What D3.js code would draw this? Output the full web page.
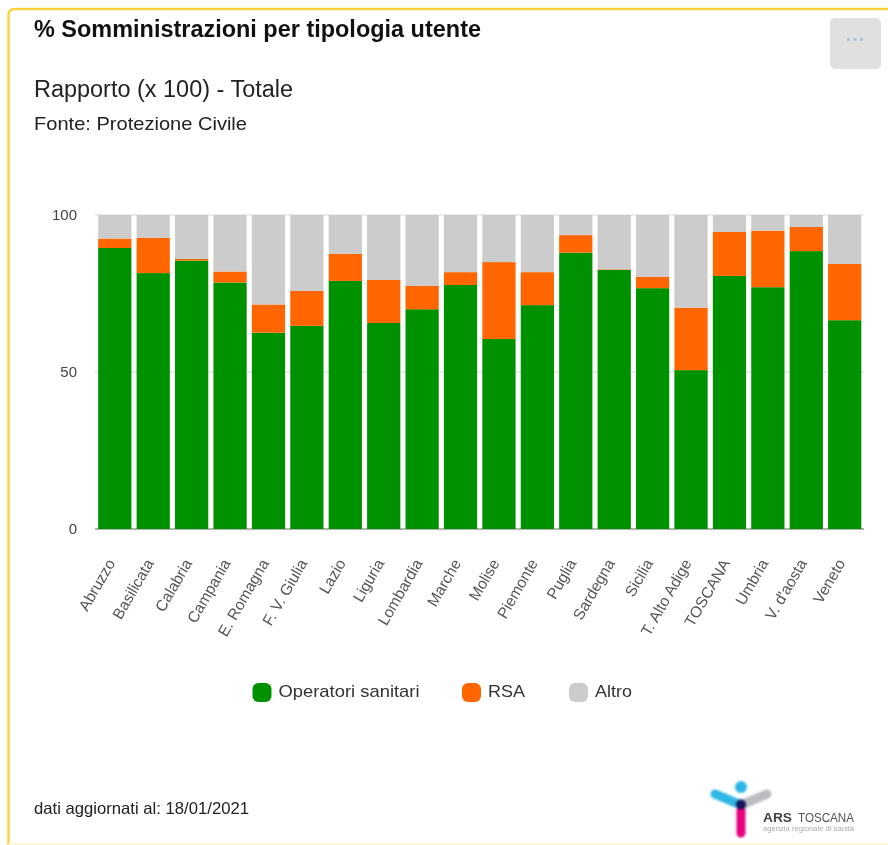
<!DOCTYPE html>
<html><head><meta charset="utf-8">
<script src="https://cdn.jsdelivr.net/npm/d3@7"></script>
<style>
html,body{margin:0;padding:0;background:#fff;overflow:hidden}
svg{display:block;font-family:"Liberation Sans",Arial,sans-serif;filter:blur(0.45px)}
</style></head><body>
<svg id="c" width="888" height="845"></svg>
<script>
const categories=["Abruzzo","Basilicata","Calabria","Campania","E. Romagna","F. V. Giulia","Lazio","Liguria","Lombardia","Marche","Molise","Piemonte","Puglia","Sardegna","Sicilia","T. Alto Adige","TOSCANA","Umbria","V. d'aosta","Veneto"];
const operatori=[89.5,81.5,85.5,78.5,62.5,64.7,79,65.6,70,77.7,60.5,71.3,88,82.5,76.7,50.6,80.6,77,88.5,66.5];
const rsa=[3,11.2,0.5,3.5,9,11.1,8.6,13.7,7.4,4.1,24.5,10.5,5.6,0.2,3.6,19.9,14,18,7.7,17.9];
const altro=[7.5,7.3,14,18,28.5,24.2,12.4,20.7,22.6,18.2,15,18.2,6.4,17.3,19.7,29.5,5.4,5,3.8,15.6];
const seriesNames=["Operatori sanitari","RSA","Altro"];
const seriesColors=["#009100","#ff6600","#cccccc"];
const yTicks=[0,50,100];

const svg=d3.select("#c");
svg.append("path").attr("d","M8.5,845 V15 Q8.5,9 14.5,9 H888").attr("fill","none").attr("stroke","#ffd23c").attr("stroke-width",2.4);
svg.append("line").attr("x1",8).attr("x2",888).attr("y1",844).attr("y2",844).attr("stroke","#fff3c8").attr("stroke-width",1.5);

const text=(x,y,s,size,weight,fill,len)=>{const t=svg.append("text").attr("x",x).attr("y",y).text(s)
  .attr("font-size",size).attr("font-weight",weight||"normal").attr("fill",fill||"#111");
  if(len)t.attr("textLength",len).attr("lengthAdjust","spacingAndGlyphs");return t;};
text(34,37,"% Somministrazioni per tipologia utente",23,"bold","#111",447);
text(34,96.5,"Rapporto (x 100) - Totale",23.5,"normal","#222",259);
text(34,130,"Fonte: Protezione Civile",19,"normal","#222",213);
text(34,814,"dati aggiornati al: 18/01/2021",16.5,"normal","#222",215);

svg.append("rect").attr("x",830).attr("y",18).attr("width",51).attr("height",51).attr("rx",5).attr("fill","#e0e0e0");
svg.selectAll("circle.dot").data([0,1,2]).join("circle").attr("class","dot")
  .attr("cx",d=>848.5+d*6.5).attr("cy",39.5).attr("r",1.7).attr("fill","#a9c4dc");

const x=d3.scaleBand().domain(categories).range([95.5,864]).paddingInner(0.135).paddingOuter(0.07);
const y=d3.scaleLinear().domain([0,100]).range([529,215]);

svg.append("g").selectAll("line").data(yTicks).join("line")
  .attr("x1",95).attr("x2",864).attr("y1",d=>y(d)).attr("y2",d=>y(d))
  .attr("stroke",d=>d===0?"#9a9a9a":"#e4e4e4").attr("stroke-width",d=>d===0?1.4:1.5);

const rows=categories.map((c,i)=>({c,a:operatori[i],b:rsa[i],d:altro[i]}));
const stack=d3.stack().keys(["a","b","d"])(rows);
svg.append("g").selectAll("g").data(stack).join("g").attr("fill",(d,i)=>seriesColors[i])
  .selectAll("rect").data(d=>d).join("rect")
  .attr("x",d=>x(d.data.c)).attr("width",x.bandwidth())
  .attr("y",d=>y(d[1])).attr("height",d=>y(d[0])-y(d[1]));

const yAxis=d3.axisLeft(y).tickValues(yTicks).tickSize(0).tickPadding(19);
const gy=svg.append("g").attr("transform","translate(96,0)").call(yAxis);
gy.select(".domain").remove();
gy.selectAll("text").attr("font-size",15).attr("font-family","inherit").attr("fill","#444");

const xAxis=d3.axisBottom(x).tickSize(0).tickPadding(0);
const gx=svg.append("g").attr("transform","translate(0,529)").call(xAxis);
gx.select(".domain").remove();
gx.selectAll("text").attr("font-size",15.5).attr("font-family","inherit").attr("fill","#555")
  .attr("text-anchor","end").attr("dy",0).attr("y",0)
  .attr("transform","translate(1,34) rotate(-60)");

const lx=[252.5,462,569];
const lw=[141,37,37];
const lg=svg.append("g").selectAll("g").data(seriesNames).join("g").attr("transform",(d,i)=>`translate(${lx[i]},683)`);
lg.append("rect").attr("width",19).attr("height",19).attr("rx",6).attr("fill",(d,i)=>seriesColors[i]);
lg.append("text").attr("x",26).attr("y",14).attr("font-size",17).attr("fill","#333")
  .attr("textLength",(d,i)=>lw[i]).attr("lengthAdjust","spacingAndGlyphs").text(d=>d);

const logo=svg.append("g").attr("stroke-linecap","round").attr("fill","none").style("filter","blur(1px)");
logo.append("line").attr("x1",741).attr("y1",805).attr("x2",767).attr("y2",794).attr("stroke","#b9bcc0").attr("stroke-width",9);
logo.append("line").attr("x1",715).attr("y1",794).attr("x2",741).attr("y2",805).attr("stroke","#2fb6e6").attr("stroke-width",9);
logo.append("line").attr("x1",741).attr("y1",810).attr("x2",741).attr("y2",833).attr("stroke","#e6007e").attr("stroke-width",9);
logo.append("circle").attr("cx",741).attr("cy",787).attr("r",6).attr("fill","#2fb6e6");
logo.append("circle").attr("cx",741).attr("cy",804.5).attr("r",5).attr("fill","#14145a");
text(763,822,"ARS",13.5,"bold","#444",29);
text(798,822,"TOSCANA",13.5,"normal","#555",56);
text(763,831,"agenzia regionale di sanità",7.5,"normal","#aaa",91);
</script>
</body></html>
